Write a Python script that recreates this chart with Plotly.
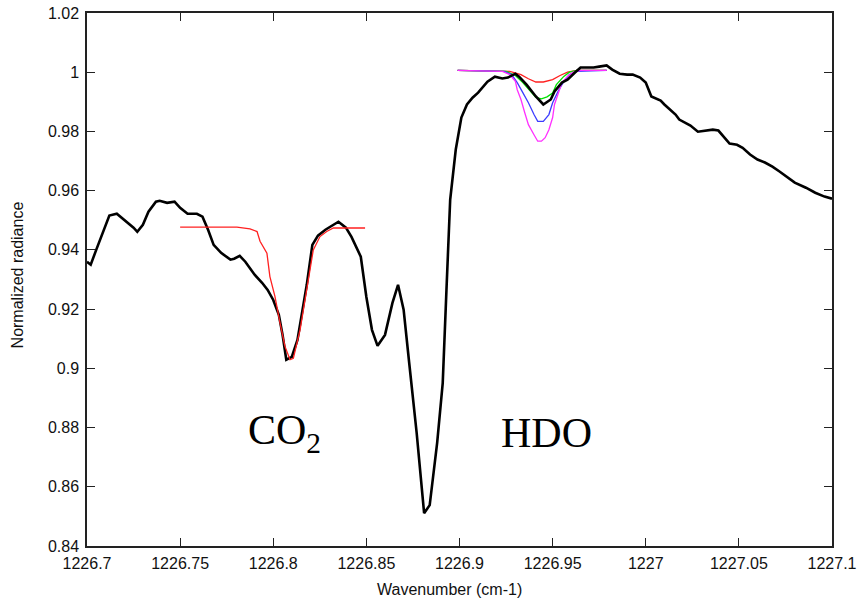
import plotly.graph_objects as go

# Observed spectrum (black)
obs_wavenumber = [
    1226.700, 1226.702, 1226.705, 1226.709, 1226.712, 1226.716, 1226.720, 1226.725, 1226.727, 1226.730,
    1226.733, 1226.737, 1226.739, 1226.743, 1226.747, 1226.750, 1226.754, 1226.759, 1226.762, 1226.765,
    1226.768, 1226.772, 1226.777, 1226.779, 1226.782, 1226.785, 1226.790, 1226.794, 1226.797, 1226.800,
    1226.803, 1226.805, 1226.807, 1226.810, 1226.813, 1226.815, 1226.818, 1226.821, 1226.824, 1226.828,
    1226.832, 1226.835, 1226.839, 1226.842, 1226.847, 1226.850, 1226.853, 1226.856, 1226.860, 1226.864,
    1226.867, 1226.870, 1226.873, 1226.877, 1226.881, 1226.884, 1226.888, 1226.891, 1226.893, 1226.895,
    1226.898, 1226.901, 1226.904, 1226.907, 1226.910, 1226.915, 1226.919, 1226.923, 1226.926, 1226.930,
    1226.932, 1226.936, 1226.941, 1226.945, 1226.949, 1226.951, 1226.955, 1226.958, 1226.962, 1226.965,
    1226.968, 1226.972, 1226.975, 1226.979, 1226.982, 1226.986, 1226.990, 1226.993, 1226.997, 1227.000,
    1227.003, 1227.008, 1227.010, 1227.016, 1227.018, 1227.024, 1227.028, 1227.032, 1227.036, 1227.039,
    1227.042, 1227.045, 1227.049, 1227.052, 1227.056, 1227.060, 1227.064, 1227.068, 1227.072, 1227.076,
    1227.080, 1227.086, 1227.091, 1227.096, 1227.100,
]
obs_radiance = [
    0.9360, 0.9350, 0.9401, 0.9468, 0.9516, 0.9522, 0.9502, 0.9475, 0.9461, 0.9485,
    0.9529, 0.9563, 0.9566, 0.9559, 0.9563, 0.9542, 0.9522, 0.9522, 0.9512, 0.9468,
    0.9417, 0.9390, 0.9367, 0.9370, 0.9380, 0.9360, 0.9316, 0.9289, 0.9265, 0.9231,
    0.9181, 0.9113, 0.9029, 0.9039, 0.9096, 0.9171, 0.9282, 0.9417, 0.9448, 0.9468,
    0.9482, 0.9495, 0.9475, 0.9444, 0.9377, 0.9241, 0.9130, 0.9076, 0.9113, 0.9221,
    0.9282, 0.9198, 0.9018, 0.8782, 0.8511, 0.8538, 0.8748, 0.8951, 0.9265, 0.9570,
    0.9739, 0.9847, 0.9891, 0.9914, 0.9931, 0.9968, 0.9985, 0.9979, 0.9982, 0.9995,
    0.9985, 0.9958, 0.9918, 0.9891, 0.9908, 0.9935, 0.9965, 0.9975, 0.9999, 1.0016,
    1.0016, 1.0016, 1.0019, 1.0023, 1.0009, 0.9995, 0.9992, 0.9992, 0.9982, 0.9965,
    0.9918, 0.9904, 0.9891, 0.9857, 0.9840, 0.9820, 0.9799, 0.9803, 0.9806, 0.9803,
    0.9782, 0.9759, 0.9755, 0.9745, 0.9722, 0.9705, 0.9695, 0.9681, 0.9664, 0.9644,
    0.9627, 0.9610, 0.9593, 0.9580, 0.9573,
]

# CO2 model (red)
co2_wavenumber = [1226.750, 1226.7805, 1226.7875, 1226.7913, 1226.7929, 1226.7966, 1226.7982, 1226.8009,
                  1226.8036, 1226.8063, 1226.8090, 1226.8108, 1226.8144, 1226.8180, 1226.8215, 1226.8251,
                  1226.8287, 1226.8323, 1226.8493]
co2_radiance = [0.9477, 0.9477, 0.9471, 0.9462, 0.9429, 0.9389, 0.9310, 0.9243,
                0.9154, 0.9074, 0.9029, 0.9034, 0.9130, 0.9265, 0.9400, 0.9445,
                0.9462, 0.9474, 0.9474]

# HDO models
hdo_magenta_x = [1226.899, 1226.923, 1226.927, 1226.930, 1226.931, 1226.933, 1226.935, 1226.937, 1226.940,
                 1226.942, 1226.944, 1226.946, 1226.948, 1226.950, 1226.951, 1226.953, 1226.955, 1226.958,
                 1226.961, 1226.965, 1226.979]
hdo_magenta_y = [1.0006, 1.0003, 0.9992, 0.9969, 0.9941, 0.9908, 0.9864, 0.9823, 0.9789,
                 0.9767, 0.9767, 0.9779, 0.9806, 0.9847, 0.9891, 0.9931, 0.9965, 0.9986,
                 1.0000, 1.0006, 1.0006]
hdo_blue_x = [1226.899, 1226.924, 1226.928, 1226.931, 1226.934, 1226.937, 1226.940, 1226.942, 1226.945,
              1226.948, 1226.950, 1226.953, 1226.956, 1226.959, 1226.963, 1226.979]
hdo_blue_y = [1.0006, 1.0003, 0.9992, 0.9965, 0.9931, 0.9897, 0.9857, 0.9834, 0.9834,
              0.9857, 0.9897, 0.9936, 0.9969, 0.9992, 1.0003, 1.0006]
hdo_green_x = [1226.899, 1226.925, 1226.930, 1226.934, 1226.938, 1226.941, 1226.944, 1226.947, 1226.950,
               1226.952, 1226.956, 1226.959, 1226.963, 1226.979]
hdo_green_y = [1.0006, 1.0003, 0.9989, 0.9965, 0.9936, 0.9915, 0.9910, 0.9917, 0.9930,
               0.9958, 0.9986, 1.0000, 1.0006, 1.0006]
hdo_red_x = [1226.899, 1226.927, 1226.933, 1226.937, 1226.941, 1226.945, 1226.950, 1226.954, 1226.958,
             1226.963, 1226.979]
hdo_red_y = [1.0006, 1.0003, 0.9992, 0.9978, 0.9967, 0.9967, 0.9975, 0.9989, 1.0000,
             1.0006, 1.0006]

x_ticks = [1226.7, 1226.75, 1226.8, 1226.85, 1226.9, 1226.95, 1227.0, 1227.05, 1227.1]
x_tick_labels = ["1226.7", "1226.75", "1226.8", "1226.85", "1226.9", "1226.95", "1227", "1227.05", "1227.1"]
y_ticks = [0.84, 0.86, 0.88, 0.9, 0.92, 0.94, 0.96, 0.98, 1.0, 1.02]
y_tick_labels = ["0.84", "0.86", "0.88", "0.9", "0.92", "0.94", "0.96", "0.98", "1", "1.02"]

fig = go.Figure()
for xs, ys, col in [
    (hdo_red_x, hdo_red_y, "#ff2020"),
    (hdo_green_x, hdo_green_y, "#00e000"),
    (hdo_blue_x, hdo_blue_y, "#3c3cff"),
    (hdo_magenta_x, hdo_magenta_y, "#ff30ff"),
]:
    fig.add_trace(go.Scatter(x=xs, y=ys, mode="lines", line=dict(color=col, width=1.3),
                             showlegend=False, hoverinfo="skip"))

fig.add_trace(go.Scatter(x=obs_wavenumber, y=obs_radiance, mode="lines",
                         line=dict(color="black", width=2.6), showlegend=False))
fig.add_trace(go.Scatter(x=co2_wavenumber, y=co2_radiance, mode="lines",
                         line=dict(color="#ff2020", width=1.3), showlegend=False))

fig.add_annotation(x=1226.7855, y=0.8780, xref="x", yref="y", text="CO<sub>2</sub>",
                   showarrow=False, xanchor="left", yanchor="middle",
                   font=dict(family="Liberation Serif", size=42, color="black"))
fig.add_annotation(x=1226.9212, y=0.8780, xref="x", yref="y", text="HDO",
                   showarrow=False, xanchor="left", yanchor="middle",
                   font=dict(family="Liberation Serif", size=42, color="black"))

axis_font = dict(family="Liberation Sans, Arial", size=16, color="#111")

# axis titles placed as paper annotations
fig.add_annotation(x=0.486, y=-0.081, xref="paper", yref="paper", text="Wavenumber (cm-1)",
                   showarrow=False, xanchor="center", yanchor="middle", font=axis_font)
fig.add_annotation(x=-0.093, y=0.509, xref="paper", yref="paper", text="Normalized radiance",
                   showarrow=False, xanchor="center", yanchor="middle", textangle=-90, font=axis_font)

fig.update_layout(
    width=858, height=599,
    margin=dict(l=87, r=26, t=13, b=53, pad=0),
    paper_bgcolor="white", plot_bgcolor="white",
    font=axis_font,
    xaxis=dict(range=[1226.7, 1227.1], tickvals=x_ticks, ticktext=x_tick_labels,
               showgrid=False, zeroline=False, showline=True, linecolor="#222", linewidth=1.5,
               mirror="ticks", ticks="inside", ticklen=8, tickcolor="#222", tickwidth=1.2,
               tickfont=axis_font, ticklabelstandoff=2, automargin=False,
               ticklabeloverflow="allow"),
    yaxis=dict(range=[0.84, 1.02], tickvals=y_ticks, ticktext=y_tick_labels,
               showgrid=False, zeroline=False, showline=True, linecolor="#222", linewidth=1.5,
               mirror="ticks", ticks="inside", ticklen=8, tickcolor="#222", tickwidth=1.2,
               tickfont=axis_font, ticklabelstandoff=3, automargin=False,
               ticklabeloverflow="allow"),
)

fig.write_html("out.html",
               config={"displayModeBar": False},
               post_script="document.body.style.margin='0';document.body.style.overflow='hidden';")
